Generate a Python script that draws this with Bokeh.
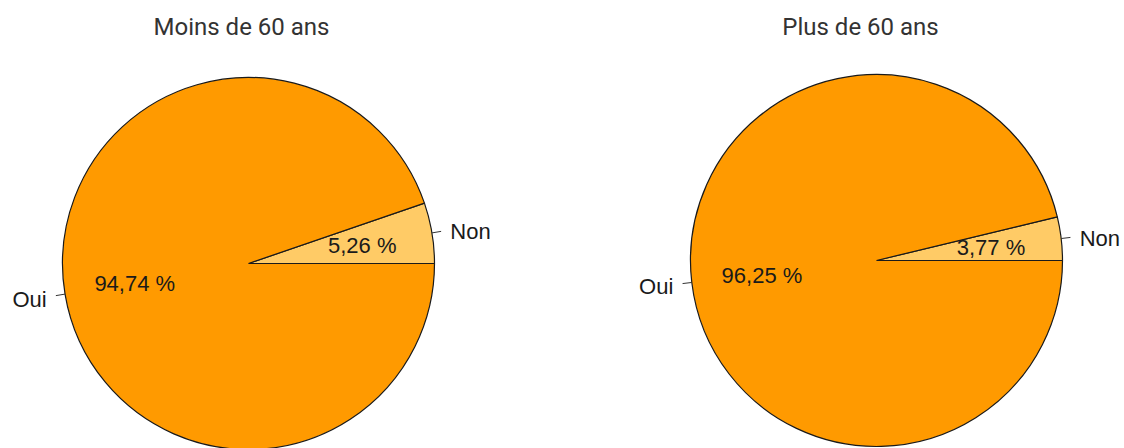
import numpy as np
from bokeh.plotting import figure
from bokeh.models import Range1d, ColumnDataSource
from bokeh.core.properties import value
from bokeh.embed import file_html
from bokeh.resources import INLINE

# ---- data ----
groups = ["Moins de 60 ans", "Plus de 60 ans"]
categories = ["Oui", "Non"]
oui_pct = [94.74, 96.25]
non_pct = [5.26, 3.77]

# ---- layout constants (pixels, y measured upward) ----
W, H = 1124, 448
centers_x = [248, 876]
centers_y = [H - 263, H - 260]
radius = 186
title_x = [241, 860]
title_y = H - 26
colors = {"Oui": "#FF9A00", "Non": "#FFCB66"}

p = figure(width=W, height=H, x_range=Range1d(0, W), y_range=Range1d(0, H),
           output_backend="svg", toolbar_location=None, min_border=0)
p.axis.visible = False
p.grid.visible = False
p.outline_line_color = None
p.background_fill_color = "white"

def fmt(v):
    return ("%.2f" % v).replace(".", ",") + " %"

for i, g in enumerate(groups):
    cx, cy = centers_x[i], centers_y[i]
    vals = {"Non": non_pct[i], "Oui": oui_pct[i]}
    total = sum(vals.values())
    start = 0.0
    wx, wy, ws, we, wc = [], [], [], [], []
    lab_x, lab_y, lab_t, lab_align = [], [], [], []
    pc_x, pc_y, pc_t = [], [], []
    sx0, sy0, sx1, sy1 = [], [], [], []
    for cat in ["Non", "Oui"]:
        ang = vals[cat] / total * 2 * np.pi
        end = start + ang
        wx.append(cx); wy.append(cy); ws.append(start); we.append(end)
        wc.append(colors[cat])
        mid = (start + end) / 2
        c, s = np.cos(mid), np.sin(mid)
        sx0.append(cx + radius * c); sy0.append(cy + radius * s)
        sx1.append(cx + 1.05 * radius * c); sy1.append(cy + 1.05 * radius * s)
        lab_x.append(cx + 1.1 * radius * c); lab_y.append(cy + 1.1 * radius * s)
        lab_t.append(cat); lab_align.append("left" if c > 0 else "right")
        pc_x.append(cx + 0.62 * radius * c); pc_y.append(cy + 0.62 * radius * s)
        pc_t.append(fmt(vals[cat]))
        start = end
    p.wedge(x=wx, y=wy, radius=radius, start_angle=ws, end_angle=we,
            fill_color=wc, line_color="#1a1a1a", line_width=1.2)
    p.segment(x0=sx0, y0=sy0, x1=sx1, y1=sy1, line_color="#333333", line_width=1)
    src = ColumnDataSource(dict(x=lab_x, y=lab_y, t=lab_t, a=lab_align))
    p.text(x="x", y="y", text="t", text_align="a", source=src,
           text_baseline="middle", y_offset=2,
           text_font=value("Liberation Sans"), text_font_size="22px",
           text_color="#1a1a1a")
    p.text(x=pc_x, y=pc_y, text=pc_t, text_align="center",
           text_baseline="middle", y_offset=1,
           text_font=value("Liberation Sans"), text_font_size="22px",
           text_color="#1a1a1a")
    p.text(x=[title_x[i]], y=[title_y], text=[g], text_align="center",
           text_baseline="middle", text_font=value("Roboto"),
           text_font_size="24px", text_color="#333333")

open("out.html", "w").write(file_html(p, INLINE))
